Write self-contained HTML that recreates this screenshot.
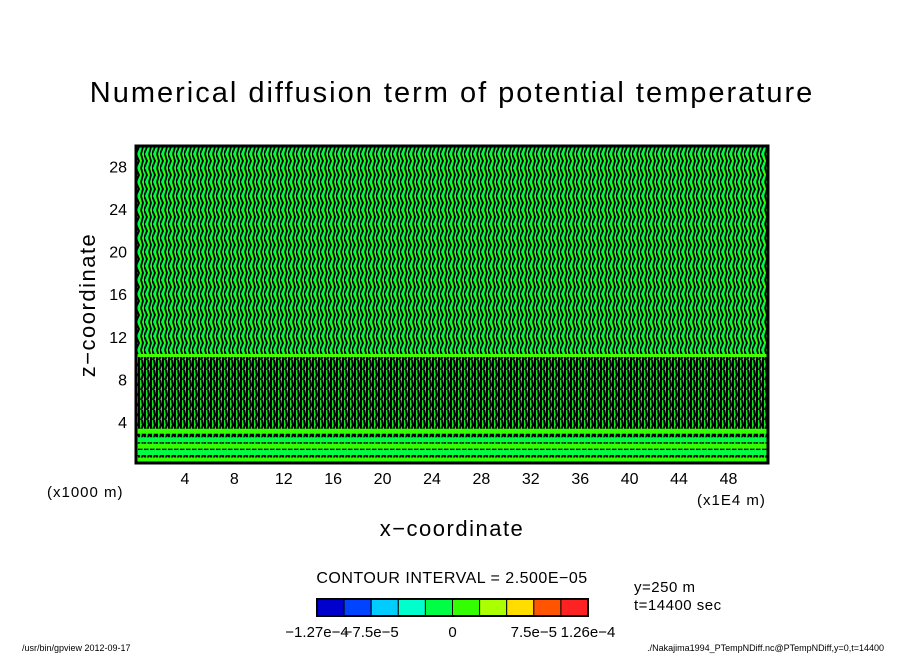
<!DOCTYPE html>
<html><head><meta charset="utf-8"><style>
body{margin:0;background:#fff;}
svg{display:block;font-family:"Liberation Sans",sans-serif;}
</style></head><body>
<svg width="904" height="654" viewBox="0 0 904 654">
<defs>
<pattern id="tex" width="8" height="14" patternUnits="userSpaceOnUse">
<rect width="8" height="14" fill="#00ff44"/>
<rect x="4" y="0" width="4" height="7" fill="#33ff00"/>
<path d="M0,0 L3,7 L0,14 M5,0 L7,7 L5,14" stroke="#000" stroke-width="1.8" fill="none"/>
</pattern>
<pattern id="tex2" width="6" height="10" patternUnits="userSpaceOnUse">
<rect width="6" height="10" fill="#11ff22"/>
<path d="M1,0 L1,10 M4,0 L5,5 L3,10" stroke="#000" stroke-width="2.2" fill="none"/>
</pattern>
</defs>
<text x="452" y="102" text-anchor="middle" font-size="29" letter-spacing="2">Numerical diffusion term of potential temperature</text>
<g id="plot">
<rect x="136" y="146" width="632" height="210" fill="url(#tex)"/>
<rect x="136" y="356" width="632" height="107" fill="url(#tex2)"/>
<rect x="136" y="354" width="632" height="3" fill="#44ff00"/>
<g id="bands"></g>
<rect x="136" y="146" width="632" height="317" fill="none" stroke="#000" stroke-width="3"/>
</g>
<g id="xticks"></g><g id="yticks"></g>
<text x="47" y="497" font-size="15" letter-spacing="1">(x1000 m)</text>
<text x="697" y="505" font-size="15" letter-spacing="1">(x1E4 m)</text>
<text x="452" y="536" text-anchor="middle" font-size="22" letter-spacing="1.5">x−coordinate</text>
<text transform="translate(95,305) rotate(-90)" text-anchor="middle" font-size="22" letter-spacing="1.5">z−coordinate</text>
<text x="452" y="583" text-anchor="middle" font-size="16" letter-spacing="0.5">CONTOUR INTERVAL = 2.500E−05</text>
<text x="634" y="592" font-size="15" letter-spacing="0.5">y=250 m</text>
<text x="634" y="610" font-size="15" letter-spacing="0.5">t=14400 sec</text>
<g id="cbar"></g>
<g id="cblab"></g>
<text x="22" y="651" font-size="9">/usr/bin/gpview  2012-09-17</text>
<text x="884" y="651" text-anchor="end" font-size="9">./Nakajima1994_PTempNDiff.nc@PTempNDiff,y=0,t=14400</text>
</svg>
<script>
const xTicks=[4,8,12,16,20,24,28,32,36,40,44,48];
const yTicks=[4,8,12,16,20,24,28];
const cbColors=["#0000cc","#0044ff","#00ccff","#00ffcc","#00ff44","#33ff00","#aaff00","#ffdd00","#ff5500","#ff2222"];
const cbLabels=["−1.27e−4","−7.5e−5","0","7.5e−5","1.26e−4"];
const cbLabelIdx=[0,2,5,8,10];
const bandZ=[0.3,1.0,1.6,2.2,3.0];
const bandCol=["#33ff00","#00ff44","#33ff00","#00ff44","#33ff00"];
const NS="http://www.w3.org/2000/svg";
const X=v=>135.5+v*(768-135.5)/51.2;
const Y=v=>464.7-v*(464.7-146)/29.9;
function mk(t,a,p){const e=document.createElementNS(NS,t);for(const k in a)e.setAttribute(k,a[k]);p.appendChild(e);return e;}
const bg=document.getElementById('bands');
bandZ.forEach((z,i)=>{
 const r=mk('rect',{x:136,y:Y(z)-4,width:632,height:5,fill:bandCol[i]},bg);
 
 
});
const xg=document.getElementById('xticks');
xTicks.forEach(v=>{const t=mk('text',{x:X(v),y:484,'text-anchor':'middle','font-size':16},xg);t.textContent=v;
 
 });
const yg=document.getElementById('yticks');
yTicks.forEach(v=>{const t=mk('text',{x:127,y:Y(v)+6,'text-anchor':'end','font-size':16},yg);t.textContent=v;
 
 });
const cb=document.getElementById('cbar');
const w=(588-317)/cbColors.length;
cbColors.forEach((c,i)=>{const r=mk('rect',{x:317+i*w,y:599,width:w,height:17,fill:c,stroke:'#000','stroke-width':1},cb);
 
 });
mk('rect',{x:317,y:599,width:271,height:17,fill:'none',stroke:'#000','stroke-width':2},cb);
const cl=document.getElementById('cblab');
cbLabels.forEach((s,i)=>{const t=mk('text',{x:317+cbLabelIdx[i]*w,y:637,'text-anchor':'middle','font-size':15},cl);t.textContent=s;
 
 });
</script>
</body></html>
